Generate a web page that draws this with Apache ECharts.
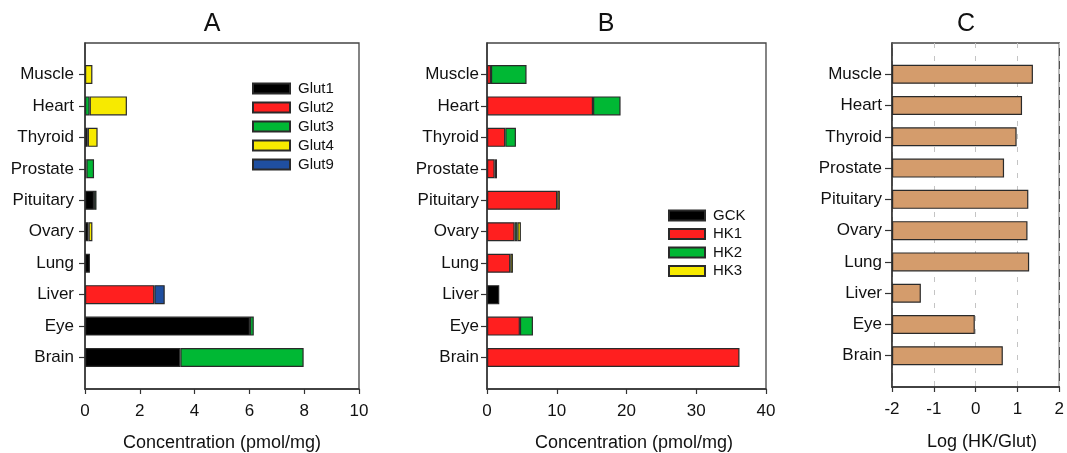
<!DOCTYPE html>
<html>
<head>
<meta charset="utf-8">
<script src="https://cdn.jsdelivr.net/npm/echarts@6/dist/echarts.min.js"></script>
<style>html,body{margin:0;padding:0;background:#fff}#c{width:1067px;height:453px}</style>
</head>
<body>
<div id="c"></div>
<script>
// Tissues, bottom to top
var tissues = ['Brain', 'Eye', 'Liver', 'Lung', 'Ovary', 'Pituitary', 'Prostate', 'Thyroid', 'Heart', 'Muscle'];
// Panel A: glucose transporters (pmol/mg)
var glut1 = [3.48, 6.02, null, 0.18, 0.13, 0.33, 0.05, 0.10, null, null];
var glut2 = [null, null, 2.53, null, null, null, null, null, null, null];
var glut3 = [4.50, 0.14, null, null, null, 0.09, 0.28, null, 0.17, null];
var glut4 = [null, null, null, null, 0.14, null, null, 0.36, 1.36, 0.27];
var glut9 = [null, null, 0.38, null, null, null, null, null, null, null];
// Panel B: hexokinases (pmol/mg)
var gck = [null, null, 1.76, null, null, null, null, null, null, null];
var hk1 = [36.2, 4.72, null, 3.34, 3.96, 10.07, 1.10, 2.62, 15.2, 0.57];
var hk2 = [null, 1.87, null, null, 0.40, null, null, 1.53, 3.95, 5.10];
var hk3 = [null, null, null, 0.38, 0.50, 0.38, 0.33, null, null, null];
// Panel C: log(HK/Glut)
var logRatio = [0.65, -0.02, -1.31, 1.28, 1.24, 1.26, 0.68, 0.98, 1.11, 1.37];
// Tick labels
var ticksA = [0, 2, 4, 6, 8, 10];
var ticksB = [0, 10, 20, 30, 40];
var ticksC = [-2, -1, 0, 1, 2];

var FONT = 'Liberation Sans, Arial, sans-serif';
var TXT = '#111111';
var AXC = '#333333';
var cats = [''].concat(tissues).concat(['']);
function pad(a) { return [null].concat(a).concat([null]); }

function catAxis(gi, tickLen, margin) {
  return {
    type: 'category', gridIndex: gi, data: cats, boundaryGap: false,
    axisLine: { lineStyle: { color: AXC, width: 1.5 } },
    axisTick: { length: tickLen, lineStyle: { color: AXC, width: 1.2 }, interval: function (i, v) { return v !== ''; } },
    axisLabel: { interval: 0, margin: margin, color: TXT, fontSize: 17, fontFamily: FONT },
    splitLine: { show: false }
  };
}
function valAxis(gi, min, max, interval, fmt, split) {
  return {
    type: 'value', gridIndex: gi, min: min, max: max, interval: interval,
    axisLine: { show: true, lineStyle: { color: AXC, width: 1.5 } },
    axisTick: { show: true, length: 5, lineStyle: { color: AXC, width: 1.2 } },
    axisLabel: { margin: 14, color: TXT, fontSize: 17, fontFamily: FONT, formatter: fmt },
    splitLine: split ? { show: true, lineStyle: { color: '#c4c4c4', width: 1, type: [5, 8] } } : { show: false }
  };
}
function bar(name, data, color, xi, stack) {
  return {
    name: name, type: 'bar', xAxisIndex: xi, yAxisIndex: xi, stack: stack,
    data: pad(data), barWidth: 19,
    itemStyle: { color: color, borderColor: '#2a2a2a', borderWidth: 1.2 },
    emphasis: { disabled: true }, animation: false
  };
}
var BLACK = '#000000', RED = '#ff1f1f', GREEN = '#00b834', YELLOW = '#f7ea00', BLUE = '#1f4fa0', TAN = '#d49c6c';

var option = {
  backgroundColor: '#fff',
  animation: false,
  textStyle: { fontFamily: FONT },
  grid: [
    { left: 85, right: 708, top: 43, bottom: 64, show: true, borderColor: '#444', borderWidth: 1.3, backgroundColor: 'transparent' },
    { left: 487, right: 301, top: 43, bottom: 64, show: true, borderColor: '#444', borderWidth: 1.3, backgroundColor: 'transparent' },
    { left: 892, right: 5, top: 43, bottom: 66, show: true, borderColor: '#444', borderWidth: 1.3, backgroundColor: 'transparent' }
  ],
  xAxis: [
    valAxis(0, ticksA[0], ticksA[ticksA.length - 1], ticksA[1] - ticksA[0], null, false),
    valAxis(1, ticksB[0], ticksB[ticksB.length - 1], ticksB[1] - ticksB[0], null, false),
    valAxis(2, 0, ticksC[ticksC.length - 1] - ticksC[0], ticksC[1] - ticksC[0], function (v) { return String(v + ticksC[0]); }, true)
  ],
  yAxis: [catAxis(0, 6, 11), catAxis(1, 6, 8), catAxis(2, 7, 10)],
  legend: [
    {
      orient: 'vertical', left: 247, top: 76, itemWidth: 37, itemHeight: 10, itemGap: 4, icon: 'rect',
      data: ['Glut1', 'Glut2', 'Glut3', 'Glut4', 'Glut9'], selectedMode: false,
      textStyle: { fontSize: 15, color: TXT, fontFamily: FONT, lineHeight: 15, padding: [0, 0, 0, 3] }
    },
    {
      orient: 'vertical', left: 663, top: 203, itemWidth: 36, itemHeight: 10, itemGap: 3.5, icon: 'rect',
      data: ['GCK', 'HK1', 'HK2', 'HK3'], selectedMode: false,
      textStyle: { fontSize: 15, color: TXT, fontFamily: FONT, lineHeight: 15, padding: [0, 0, 0, 3] }
    }
  ],
  graphic: [
    { type: 'text', x: 212, y: 24, style: { text: 'A', font: '25px ' + FONT, fill: '#111', align: 'center', verticalAlign: 'middle' } },
    { type: 'text', x: 606, y: 24, style: { text: 'B', font: '25px ' + FONT, fill: '#111', align: 'center', verticalAlign: 'middle' } },
    { type: 'text', x: 966, y: 24, style: { text: 'C', font: '25px ' + FONT, fill: '#111', align: 'center', verticalAlign: 'middle' } },
    { type: 'text', x: 222, y: 443, style: { text: 'Concentration (pmol/mg)', font: '18px ' + FONT, fill: TXT, align: 'center', verticalAlign: 'middle' } },
    { type: 'text', x: 634, y: 443, style: { text: 'Concentration (pmol/mg)', font: '18px ' + FONT, fill: TXT, align: 'center', verticalAlign: 'middle' } },
    { type: 'text', x: 982, y: 442, style: { text: 'Log (HK/Glut)', font: '18px ' + FONT, fill: TXT, align: 'center', verticalAlign: 'middle' } }
  ],
  series: [
    bar('Glut1', glut1, BLACK, 0, 'A'),
    bar('Glut2', glut2, RED, 0, 'A'),
    bar('Glut3', glut3, GREEN, 0, 'A'),
    bar('Glut4', glut4, YELLOW, 0, 'A'),
    bar('Glut9', glut9, BLUE, 0, 'A'),
    bar('GCK', gck, BLACK, 1, 'B'),
    bar('HK1', hk1, RED, 1, 'B'),
    bar('HK2', hk2, GREEN, 1, 'B'),
    bar('HK3', hk3, YELLOW, 1, 'B'),
    bar('Log ratio', logRatio.map(function (v) { return v - ticksC[0]; }), TAN, 2, 'C')
  ]
};
var chart = echarts.init(document.getElementById('c'), null, { renderer: 'canvas' });
chart.setOption(option);
</script>
</body>
</html>
